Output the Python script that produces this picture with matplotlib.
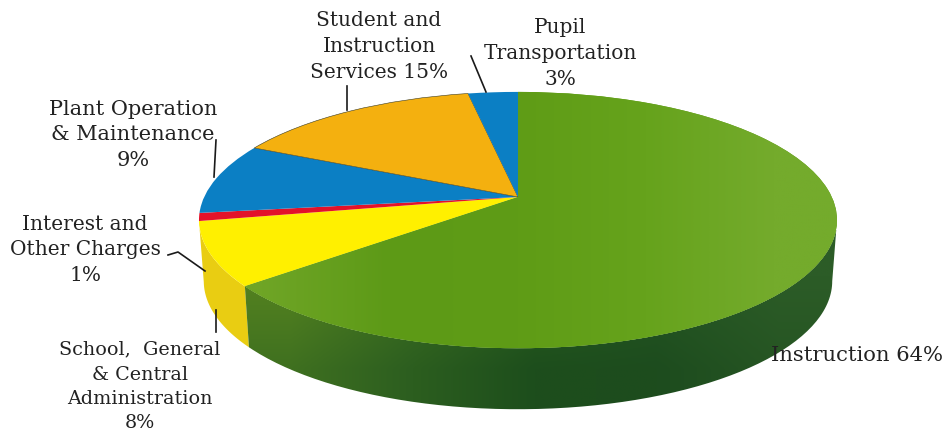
import matplotlib
matplotlib.use("Agg")
import matplotlib.pyplot as plt
import numpy as np
from matplotlib.path import Path
from matplotlib.patches import PathPatch
from matplotlib.transforms import Transform

plt.rcParams["font.family"] = ["DejaVu Serif"]

VALUES = [64, 8, 1, 9, 15, 3]
COLORS = ["#5f9c18", "#fff000", "#e3122a", "#0b7fc4", "#f4b00f", "#0b7fc4"]
SIDE_YELLOW = "#e9cd12"

# top face shading, left to right
TOP_GREEN = [["#6fa526", "#5d9a17", "#5f9c16", "#66a31c", "#74ab2c"]]
# side wall shading, rows top to bottom
SIDE_GREEN = [
    ["#55831f", "#3d6f20", "#2b5f20", "#255723", "#2c5c27"],
    ["#3f7020", "#2c5e1f", "#1d4e1c", "#1d4c1e", "#265523"],
]

LABELS = [
    (["Student and", "Instruction", "Services 15%"], 379, [26, 52, 78], 14.5),
    (["Pupil", "Transportation", "3%"], 560, [33, 59, 85], 14.5),
    (["Plant Operation", "& Maintenance", "9%"], 133, [115, 140, 166], 15),
    (["Interest and", "Other Charges", "1%"], 85, [230, 255, 281], 14.5),
    (["School,  General", "& Central", "Administration", "8%"], 140, [354, 380, 404, 428], 13.8),
]

CX, CY = 518, 197
K, SX, SY = 0.18, 313.8, 124.0
DEPTH, BOTTOM_SCALE = 61, 0.985


def project(x, y):
    w = 1 + K * y
    return CX + SX * x / w, CY - SY * y / w


class Tilt(Transform):
    """Unit pie -> pixel coordinates, far side smaller."""
    input_dims = output_dims = 2

    def transform_non_affine(self, values):
        px, py = project(values[:, 0], values[:, 1])
        return np.column_stack([px, py])


def wall_path(t1, t2):
    t = np.radians(np.linspace(t1, t2, 120))
    tx, ty = project(np.cos(t), np.sin(t))
    bx = CX + (tx - CX) * BOTTOM_SCALE
    by = ty + DEPTH
    return Path(np.column_stack([np.r_[tx, bx[::-1]], np.r_[ty, by[::-1]]]))


def hex_img(rows):
    return np.array([[matplotlib.colors.to_rgb(c) for c in r] for r in rows])


fig = plt.figure(figsize=(9.44, 4.33), dpi=100)
ax = fig.add_axes([0, 0, 1, 1])

wedges, _ = ax.pie(VALUES, colors=COLORS, startangle=90, counterclock=False)
ax.set_aspect("auto")

tilt = Tilt() + ax.transData
for w in wedges:
    w.set_transform(tilt)
    w.set_zorder(3)
    w.set_linewidth(0)
# thin dark seam between blue and orange
wedges[4].set_edgecolor("#3a3a20")
wedges[4].set_linewidth(0.4)

# side wall, only the near half of the rim shows
vis_lo, vis_hi = -169.6, -10.4
for i in [0, 1]:
    lo = max(wedges[i].theta1, vis_lo)
    hi = min(wedges[i].theta2, vis_hi)
    path = wall_path(lo, hi)
    if i == 0:
        im = ax.imshow(hex_img(SIDE_GREEN), extent=(230, 840, 415, 230), aspect="auto",
                       interpolation="bilinear", zorder=2)
        im.set_clip_path(path, transform=ax.transData)
    else:
        ax.add_patch(PathPatch(path, fc=SIDE_YELLOW, ec="none", zorder=1))

top = ax.imshow(hex_img(TOP_GREEN), extent=(198, 838, 350, 90), aspect="auto",
                interpolation="bilinear", zorder=3.5)
top.set_clip_path(wedges[0])

ax.set_xlim(0, 944)
ax.set_ylim(433, 0)

# leader lines
for xs, ys in [
    ([347, 347], [86, 110]),
    ([471, 486], [56, 92]),
    ([216, 214], [140, 177]),
    ([168, 178, 205], [255, 252, 271]),
    ([216, 216], [310, 332]),
]:
    ax.plot(xs, ys, color="#1a1a1a", lw=1.2, zorder=4)

for lines, x, ys, size in LABELS:
    for line, y in zip(lines, ys):
        ax.text(x, y, line, ha="center", va="baseline", fontsize=size, color="#222222", zorder=5)
ax.text(943, 361, "Instruction 64%", ha="right", va="baseline", fontsize=15.2,
        color="#222222", zorder=5)

ax.axis("off")
fig.savefig("out.png", dpi=100, facecolor="white")
